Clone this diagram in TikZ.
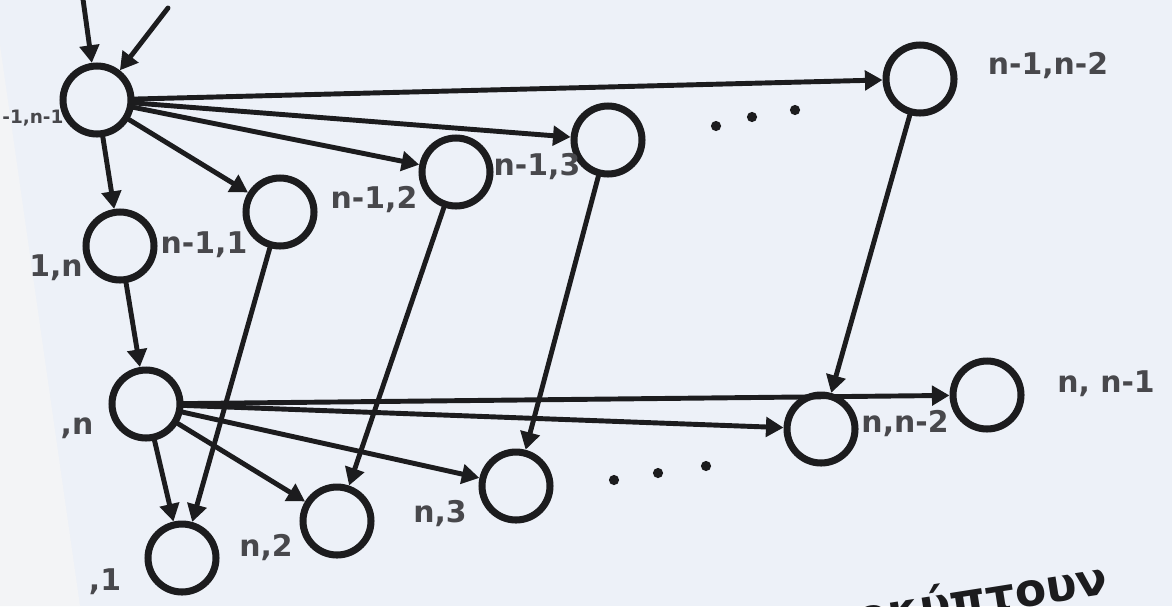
\documentclass[tikz,border=0pt]{standalone}
\usepackage{fontspec}
\setmainfont{DejaVu Sans}
\definecolor{paper}{RGB}{237,241,248}
\definecolor{strip}{RGB}{243,244,246}
\definecolor{ink}{RGB}{28,28,30}
\definecolor{pencil}{RGB}{72,72,76}
\usetikzlibrary{arrows.meta}

\begin{document}
\begin{tikzpicture}[x=0.02cm, y=-0.02cm, >={Triangle[length=10pt,width=11pt]},
    state/.style={circle, draw=ink, line width=4pt, minimum size=1.36cm, inner sep=0pt},
    link/.style={->, draw=ink, line width=2.8pt, line cap=round},
    lab/.style={text=pencil, font=\bfseries\fontsize{17}{18}\selectfont, inner sep=0pt}]
    \useasboundingbox (0,0) rectangle (1172,606);
    \fill[paper] (0,0) rectangle (1172,606);
    \fill[strip] (0,45) -- (80,606) -- (0,606) -- cycle;

    % row n-1
    \node[state] (a)  at (97,100)  {};
    \node[state] (b)  at (120,246) {};
    \node[state] (c1) at (280,212) {};
    \node[state] (c2) at (456,172) {};
    \node[state] (c3) at (608,140) {};
    \node[state] (ck) at (920,79)  {};
    % row n
    \node[state] (d)  at (146,404) {};
    \node[state] (e1) at (182,558) {};
    \node[state] (e2) at (337,521) {};
    \node[state] (e3) at (516,486) {};
    \node[state] (ek) at (821,429) {};
    \node[state] (el) at (987,395) {};

    \node[lab, anchor=west, font=\bfseries\fontsize{10.5}{12}\selectfont] (la) at (2,118) {-1,n-1};
    \node[lab] (lb)  at (56,268)   {1,n};
    \node[lab] (lc1) at (204,245)  {n-1,1};
    \node[lab] (lc2) at (374,200)  {n-1,2};
    \node[lab] (lc3) at (537,167)  {n-1,3};
    \node[lab] (lck) at (1048,66)  {n-1,n-2};
    \node[lab] (ld)  at (77,428)   {,n};
    \node[lab] (le1) at (105,582)  {,1};
    \node[lab] (le2) at (266,548)  {n,2};
    \node[lab] (le3) at (440,514)  {n,3};
    \node[lab] (lek) at (905,424)  {n,n-2};
    \node[lab] (lel) at (1106,384) {n, n-1};

    \coordinate (in1) at (82,-8);
    \coordinate (in2) at (168,8);
    \draw[link] (in1) -- (a);
    \draw[link] (in2) -- (a);

    \foreach \t in {b,c1,c2,c3,ck} \draw[link] (a) -- (\t);
    \draw[link] (b) -- (d);
    \foreach \t in {e1,e2,e3,ek,el} \draw[link] (d) -- (\t);
    \draw[link] (c1) -- (e1);
    \draw[link] (c2) -- (e2);
    \draw[link] (c3) -- (e3);
    \draw[link] (ck) -- (ek);

    % dots
    \foreach \p in {(716,126),(752,117),(795,110),(614,480),(658,473),(706,466)}
      \fill[ink] \p circle (2.9pt);

    \node[anchor=base east, rotate=9, text=ink, font=\bfseries\fontsize{26}{28}\selectfont, inner sep=0pt]
      (note) at (1110,594) {προκύπτουν};
\end{tikzpicture}
\end{document}
